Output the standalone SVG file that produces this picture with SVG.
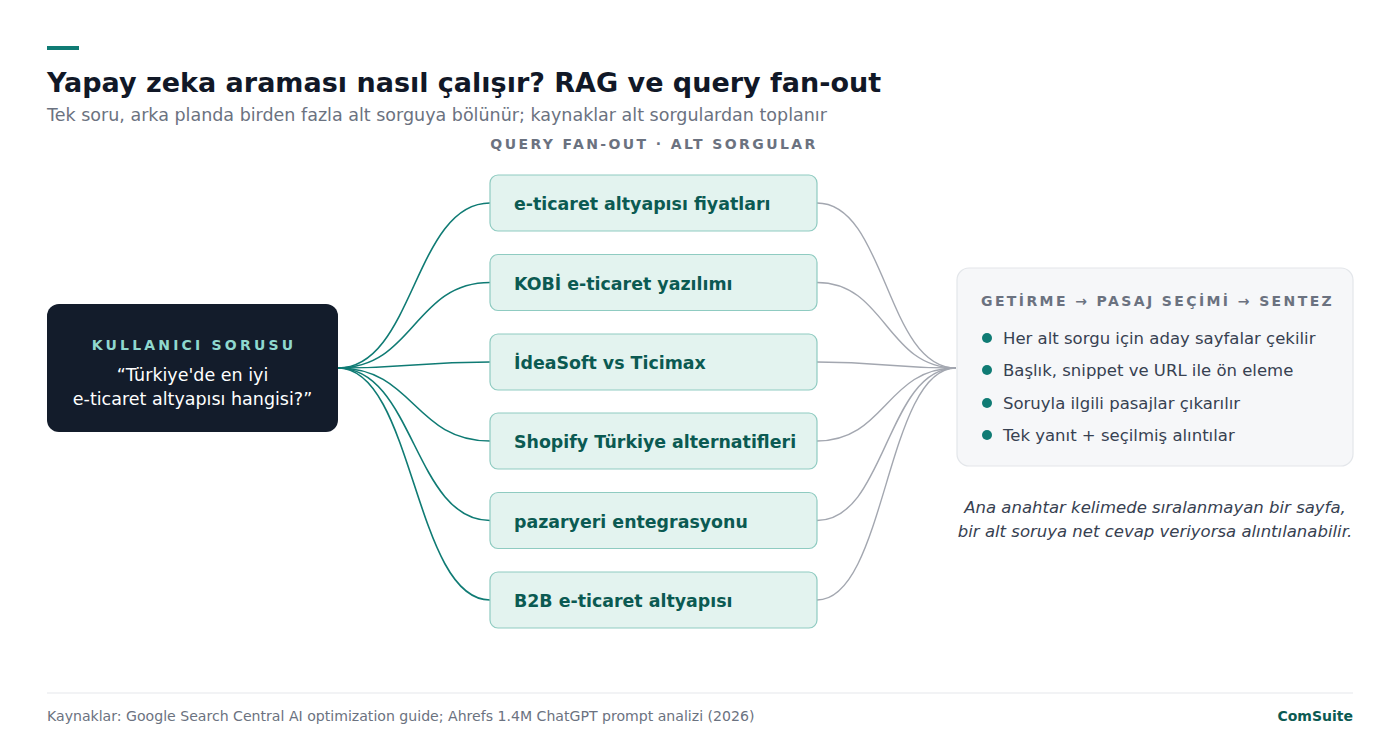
<svg xmlns="http://www.w3.org/2000/svg" width="1400" height="747" viewBox="0 0 1400 747">
<style>
text{font-family:"DejaVu Sans","Liberation Sans",sans-serif}
.title{font-size:27px;font-weight:bold;fill:#111827}
.sub{font-size:17.5px;fill:#6b7280}
.cap{font-size:14px;font-weight:bold;letter-spacing:2.4px;fill:#6b7280}
.qnode{fill:#e3f3ef;stroke:#8fcbc1;stroke-width:1.2}
.qtext{font-size:17.4px;font-weight:bold;fill:#0b5a52}
.lc{fill:none;stroke:#0f7b74;stroke-width:1.6}
.rc{fill:none;stroke:#a3a7b0;stroke-width:1.4}
.bul{font-size:16.5px;fill:#374151}
.dot{fill:#0f7b74}
.note{font-size:16.5px;font-style:italic;fill:#374151}
</style>
<rect width="1400" height="747" fill="#ffffff"/>
<rect x="47" y="46" width="32" height="4" fill="#0f7b74"/>
<text class="title" x="47" y="92">Yapay zeka araması nasıl çalışır? RAG ve query fan-out</text>
<text class="sub" x="47" y="121">Tek soru, arka planda birden fazla alt sorguya bölünür; kaynaklar alt sorgulardan toplanır</text>
<text class="cap" x="654" y="149" text-anchor="middle">QUERY FAN-OUT · ALT SORGULAR</text>

<g id="connectors">
<path class="lc" d="M338,368 C414,368 414,203 490,203"/>
<path class="lc" d="M338,368 C414,368 414,282.5 490,282.5"/>
<path class="lc" d="M338,368 C414,368 414,362 490,362"/>
<path class="lc" d="M338,368 C414,368 414,441 490,441"/>
<path class="lc" d="M338,368 C414,368 414,520.5 490,520.5"/>
<path class="lc" d="M338,368 C414,368 414,600 490,600"/>
<path class="rc" d="M817,203 C886,203 886,368 956,368"/>
<path class="rc" d="M817,282.5 C886,282.5 886,368 956,368"/>
<path class="rc" d="M817,362 C886,362 886,368 956,368"/>
<path class="rc" d="M817,441 C886,441 886,368 956,368"/>
<path class="rc" d="M817,520.5 C886,520.5 886,368 956,368"/>
<path class="rc" d="M817,600 C886,600 886,368 956,368"/>
</g>

<g id="user-question">
<rect x="47" y="304" width="291" height="128" rx="12" fill="#131c2b"/>
<text x="194" y="350" text-anchor="middle" font-size="14" font-weight="bold" letter-spacing="3.2" fill="#8fd8cf">KULLANICI SORUSU</text>
<text x="192.5" y="381" text-anchor="middle" font-size="17.5" fill="#ffffff">“Türkiye'de en iyi</text>
<text x="192.5" y="405" text-anchor="middle" font-size="17.5" fill="#ffffff">e-ticaret altyapısı hangisi?”</text>
</g>

<g id="q1"><rect class="qnode" x="490" y="175" width="327" height="56" rx="8"/><text class="qtext" x="514" y="210">e-ticaret altyapısı fiyatları</text></g>
<g id="q2"><rect class="qnode" x="490" y="254.5" width="327" height="56" rx="8"/><text class="qtext" x="514" y="289.5">KOBİ e-ticaret yazılımı</text></g>
<g id="q3"><rect class="qnode" x="490" y="334" width="327" height="56" rx="8"/><text class="qtext" x="514" y="369">İdeaSoft vs Ticimax</text></g>
<g id="q4"><rect class="qnode" x="490" y="413" width="327" height="56" rx="8"/><text class="qtext" x="514" y="448">Shopify Türkiye alternatifleri</text></g>
<g id="q5"><rect class="qnode" x="490" y="492.5" width="327" height="56" rx="8"/><text class="qtext" x="514" y="527.5">pazaryeri entegrasyonu</text></g>
<g id="q6"><rect class="qnode" x="490" y="572" width="327" height="56" rx="8"/><text class="qtext" x="514" y="607">B2B e-ticaret altyapısı</text></g>

<g id="pipeline">
<rect x="957" y="268" width="396" height="198" rx="12" fill="#f6f7f9" stroke="#e3e6ea" stroke-width="1.2"/>
<text class="cap" x="981" y="306">GETİRME → PASAJ SEÇİMİ → SENTEZ</text>
<circle class="dot" cx="987" cy="338" r="5"/><text class="bul" x="1003" y="344">Her alt sorgu için aday sayfalar çekilir</text>
<circle class="dot" cx="987" cy="370" r="5"/><text class="bul" x="1003" y="376">Başlık, snippet ve URL ile ön eleme</text>
<circle class="dot" cx="987" cy="403" r="5"/><text class="bul" x="1003" y="409">Soruyla ilgili pasajlar çıkarılır</text>
<circle class="dot" cx="987" cy="435" r="5"/><text class="bul" x="1003" y="441">Tek yanıt + seçilmiş alıntılar</text>
</g>

<g id="note">
<text class="note" x="1155" y="513" text-anchor="middle">Ana anahtar kelimede sıralanmayan bir sayfa,</text>
<text class="note" x="1155" y="537" text-anchor="middle">bir alt soruya net cevap veriyorsa alıntılanabilir.</text>
</g>

<g id="footer">
<line x1="47" y1="693" x2="1353" y2="693" stroke="#e5e7eb" stroke-width="1.2"/>
<text x="47" y="721" font-size="14.1" fill="#6b7280">Kaynaklar: Google Search Central AI optimization guide; Ahrefs 1.4M ChatGPT prompt analizi (2026)</text>
<text x="1353" y="721" font-size="14" font-weight="bold" fill="#0b5a52" text-anchor="end">ComSuite</text>
</g>
</svg>
